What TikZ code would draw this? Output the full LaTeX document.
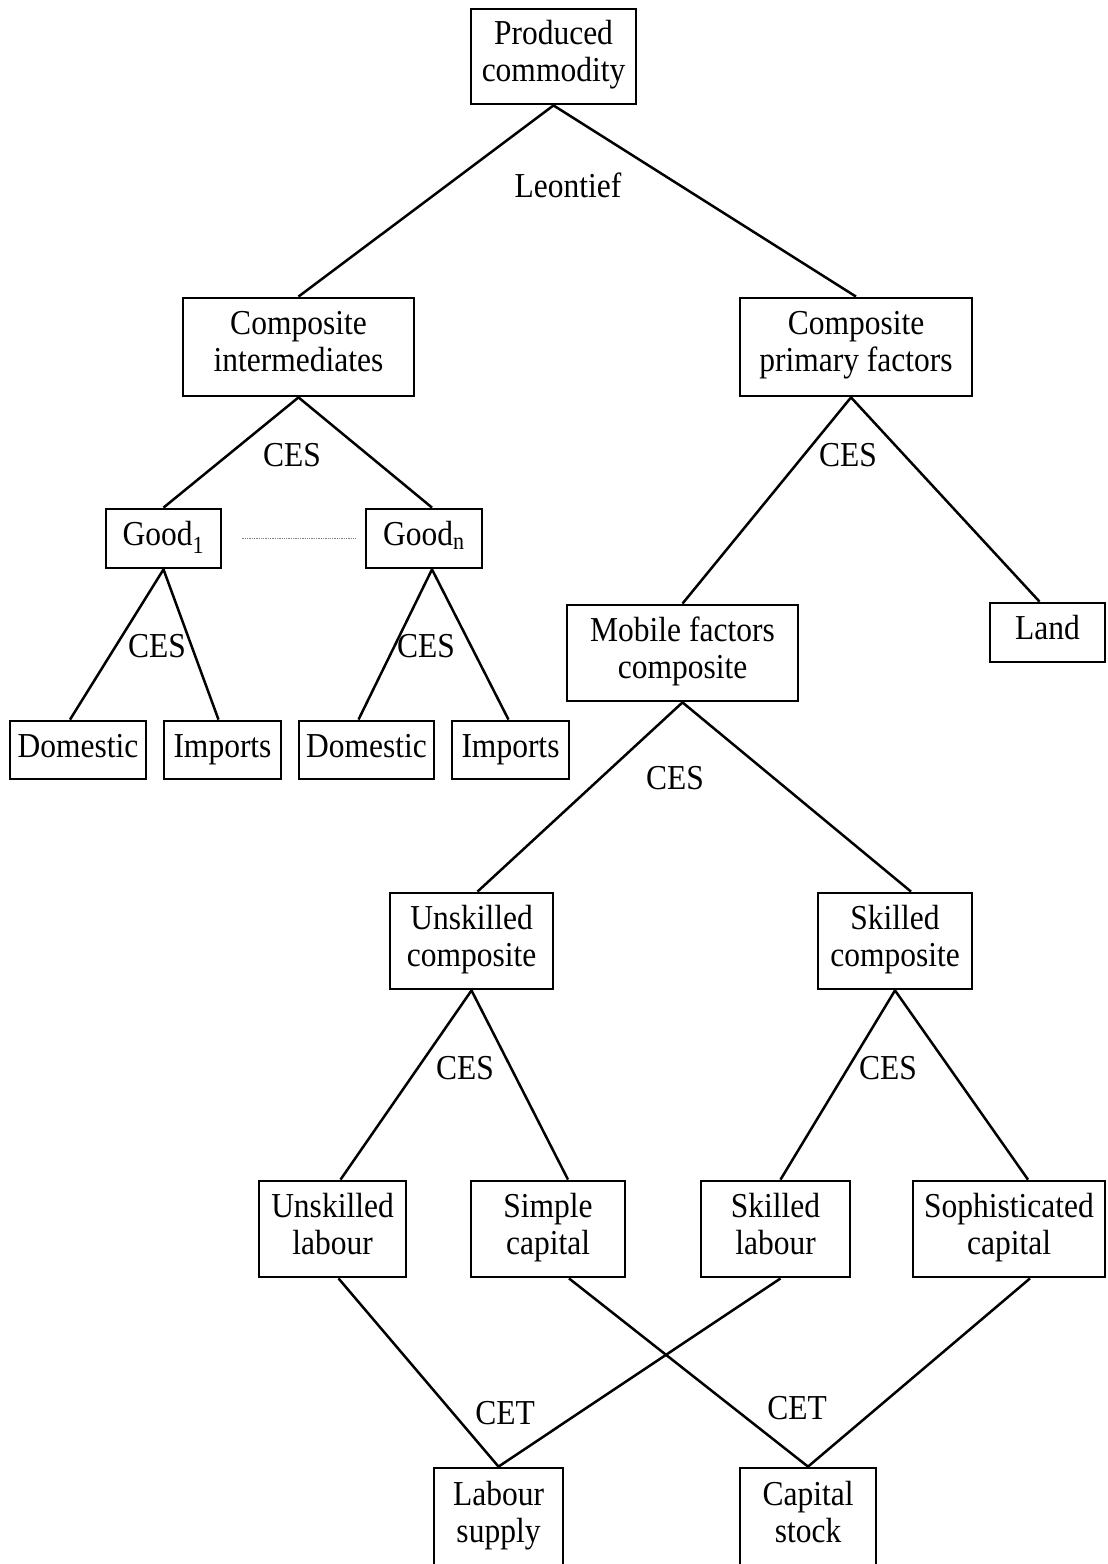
\documentclass[tikz,border=0pt]{standalone}
\usepackage{fontspec}
\setmainfont{Liberation Serif}[FakeStretch=0.9]
\begin{document}
\begin{tikzpicture}[x=1pt,y=-1pt,
  box/.style={draw,line width=2.8pt,inner sep=0pt,align=center,font=\fontsize{35}{37}\selectfont,
    execute at begin node=\strut, execute at end node=\strut},
  lbl/.style={inner sep=0pt,font=\fontsize{35}{37}\selectfont},
  edge/.style={line width=2.5pt}]
\useasboundingbox (0,0) rectangle (1108,1564);
% nodes
\node[box,minimum width=165pt,minimum height=95pt] (pc) at (553.5,56.5) {Produced\\commodity};
\node[box,minimum width=231pt,minimum height=98pt] (ci) at (298.5,347) {Composite\\intermediates};
\node[box,minimum width=232pt,minimum height=98pt] (cp) at (856,347) {Composite\\primary factors};
\node[box,minimum width=115pt,minimum height=59pt] (g1) at (163.5,538.5) {Good\textsubscript{1}};
\node[box,minimum width=116pt,minimum height=59pt] (gn) at (424,538.5) {Good\textsubscript{n}};
\node[box,minimum width=136pt,minimum height=58pt] (d1) at (78,750) {Domestic};
\node[box,minimum width=117pt,minimum height=58pt] (i1) at (222.5,750) {Imports};
\node[box,minimum width=135pt,minimum height=58pt] (d2) at (366.5,750) {Domestic};
\node[box,minimum width=117pt,minimum height=58pt] (i2) at (510.5,750) {Imports};
\node[box,minimum width=231pt,minimum height=96pt] (mf) at (682.5,653) {Mobile factors\\composite};
\node[box,minimum width=115pt,minimum height=59pt] (land) at (1047.5,632.5) {Land};
\node[box,minimum width=163pt,minimum height=96pt] (uc) at (471.5,941) {Unskilled\\composite};
\node[box,minimum width=154pt,minimum height=96pt] (sc) at (895,941) {Skilled\\composite};
\node[box,minimum width=147pt,minimum height=96pt] (ul) at (332.5,1229) {Unskilled\\labour};
\node[box,minimum width=154pt,minimum height=96pt] (scap) at (548,1229) {Simple\\capital};
\node[box,minimum width=149pt,minimum height=96pt] (skl) at (775.5,1229) {Skilled\\labour};
\node[box,minimum width=192pt,minimum height=96pt] (soph) at (1009,1229) {Sophisticated\\capital};
\node[box,minimum width=129pt,minimum height=98pt] (ls) at (498.5,1517) {Labour\\supply};
\node[box,minimum width=136pt,minimum height=98pt] (cs) at (808,1517) {Capital\\stock};
% labels
\node[lbl] (lleo) at (568,185) {Leontief};
\node[lbl] (lci) at (292,455) {CES};
\node[lbl] (lcp) at (848,455) {CES};
\node[lbl] (lg1) at (157,646) {CES};
\node[lbl] (lgn) at (426,646) {CES};
\node[lbl] (lmf) at (675,778) {CES};
\node[lbl] (luc) at (465,1068) {CES};
\node[lbl] (lsc) at (888,1068) {CES};
\node[lbl] (lls) at (505,1413) {CET};
\node[lbl] (lcs) at (797,1408) {CET};
% connectors
\draw[edge] (ci.north) -- (pc.south) -- (cp.north);
\draw[edge] (g1.north) -- (ci.south) -- ([xshift=8pt]gn.north);
\draw[edge] (mf.north) -- ([xshift=-5pt]cp.south) -- ([xshift=-8pt]land.north);
\draw[edge] ([xshift=-8pt]d1.north) -- (g1.south) -- ([xshift=-4pt]i1.north);
\draw[edge] ([xshift=-8pt]d2.north) -- ([xshift=8pt]gn.south) -- ([xshift=-2pt]i2.north);
\draw[edge] ([xshift=6pt]uc.north) -- (mf.south) -- ([xshift=16pt]sc.north);
\draw[edge] ([xshift=8pt]ul.north) -- (uc.south) -- ([xshift=20pt]scap.north);
\draw[edge] ([xshift=5pt]skl.north) -- (sc.south) -- ([xshift=19pt]soph.north);
\draw[edge] ([xshift=6pt]ul.south) -- (ls.north) -- ([xshift=5pt]skl.south);
\draw[edge] ([xshift=21pt]scap.south) -- (cs.north) -- ([xshift=21pt]soph.south);
\draw[gray,line width=1.3pt,densely dotted] ([xshift=20pt]g1.east) -- ([xshift=-9pt]gn.west);
\end{tikzpicture}
\end{document}
